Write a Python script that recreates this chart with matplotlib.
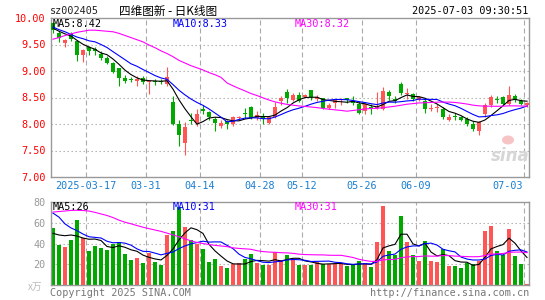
import numpy as np
import pandas as pd
import matplotlib
matplotlib.use("Agg")
import matplotlib.pyplot as plt

# ---------------- data ----------------
opens = [9.90, 9.72, 9.52, 9.69, 9.57, 9.31, 9.45, 9.42, 9.32, 9.25,
         9.15, 9.05, 8.87, 8.84, 8.82, 8.87, 8.79, 8.81, 8.82, 8.76,
         8.42, 8.00, 7.64, 8.08, 8.02, 8.28, 8.23, 8.10, 7.96, 8.05,
         8.00, 8.11, 8.21, 8.33, 8.11, 8.15, 8.02, 8.13, 8.43, 8.60,
         8.46, 8.55, 8.51, 8.65, 8.48, 8.49, 8.31, 8.40, 8.45, 8.49,
         8.43, 8.38, 8.24, 8.33, 8.31, 8.29, 8.60, 8.47, 8.75, 8.57,
         8.57, 8.46, 8.43, 8.29, 8.30, 8.29, 8.08, 8.15, 8.14, 8.10,
         8.00, 7.86, 8.18, 8.35, 8.48, 8.50, 8.38, 8.52, 8.44, 8.36]
highs = [9.93, 9.75, 9.60, 9.73, 9.58, 9.41, 9.48, 9.46, 9.37, 9.28,
         9.17, 9.06, 8.92, 8.88, 8.90, 8.90, 8.82, 8.84, 8.85, 9.07,
         8.52, 8.08, 8.04, 8.21, 8.29, 8.36, 8.25, 8.14, 8.08, 8.07,
         8.15, 8.16, 8.30, 8.34, 8.24, 8.21, 8.14, 8.42, 8.52, 8.66,
         8.58, 8.60, 8.57, 8.65, 8.55, 8.50, 8.40, 8.47, 8.49, 8.50,
         8.52, 8.44, 8.40, 8.38, 8.60, 8.70, 8.65, 8.52, 8.79, 8.68,
         8.59, 8.52, 8.49, 8.38, 8.38, 8.33, 8.18, 8.21, 8.16, 8.14,
         8.05, 8.05, 8.40, 8.54, 8.52, 8.52, 8.71, 8.57, 8.48, 8.42]
lows = [9.72, 9.55, 9.46, 9.57, 9.18, 9.17, 9.30, 9.31, 9.20, 9.14,
        8.97, 8.71, 8.77, 8.79, 8.71, 8.75, 8.56, 8.74, 8.75, 8.71,
        7.99, 7.58, 7.41, 8.00, 7.97, 8.18, 8.08, 7.87, 7.93, 7.91,
        7.97, 8.08, 8.12, 8.10, 8.08, 8.00, 8.00, 8.11, 8.35, 8.40,
        8.43, 8.42, 8.49, 8.46, 8.44, 8.29, 8.29, 8.31, 8.36, 8.40,
        8.36, 8.19, 8.19, 8.19, 8.28, 8.27, 8.46, 8.40, 8.54, 8.48,
        8.43, 8.44, 8.21, 8.25, 8.23, 8.10, 8.05, 8.08, 8.05, 7.96,
        7.86, 7.80, 8.13, 8.33, 8.40, 8.35, 8.35, 8.42, 8.35, 8.33]
closes = [9.77, 9.63, 9.58, 9.60, 9.31, 9.40, 9.37, 9.37, 9.25, 9.15,
          8.99, 8.87, 8.82, 8.83, 8.84, 8.79, 8.81, 8.79, 8.80, 8.89,
          8.00, 7.80, 7.94, 8.05, 8.19, 8.25, 8.13, 8.02, 8.02, 8.00,
          8.13, 8.13, 8.19, 8.11, 8.17, 8.10, 8.13, 8.33, 8.49, 8.49,
          8.54, 8.43, 8.55, 8.51, 8.50, 8.31, 8.36, 8.46, 8.47, 8.45,
          8.40, 8.21, 8.38, 8.29, 8.33, 8.62, 8.52, 8.44, 8.58, 8.58,
          8.48, 8.50, 8.29, 8.31, 8.31, 8.13, 8.14, 8.13, 8.08, 8.00,
          7.91, 8.04, 8.35, 8.50, 8.45, 8.38, 8.54, 8.46, 8.37, 8.40]
volumes = [55.0, 38.7, 36.8, 43.3, 62.2, 45.3, 32.9, 37.8, 36.1, 33.6,
           40.0, 41.7, 30.3, 24.1, 26.4, 21.5, 31.2, 22.4, 19.2, 48.5,
           52.4, 75.0, 56.3, 43.3, 39.4, 34.5, 22.4, 24.8, 18.3, 16.0,
           20.5, 21.5, 24.8, 30.3, 21.5, 19.2, 19.2, 31.9, 23.8, 29.0,
           24.8, 19.2, 19.2, 19.2, 22.4, 20.5, 20.5, 20.5, 19.8, 18.3,
           19.2, 23.1, 21.5, 17.3, 41.0, 75.8, 32.9, 29.0, 66.1, 41.0,
           29.0, 23.1, 42.7, 23.1, 22.4, 35.1, 18.3, 18.3, 16.6, 21.5,
           19.8, 23.1, 52.4, 57.3, 32.9, 29.0, 54.1, 28.0, 20.5, 1.0]

# moving-average values before enough in-window history exists
ma5_head = [9.81, 9.75, 9.70, 9.66]
ma10_head = [9.83, 9.78, 9.74, 9.69, 9.64, 9.61, 9.57, 9.55, 9.50]
ma30_head = [9.60, 9.63, 9.67, 9.70, 9.73, 9.75, 9.77, 9.77, 9.76, 9.75,
             9.74, 9.71, 9.67, 9.63, 9.59, 9.55, 9.49, 9.44, 9.38, 9.33,
             9.27, 9.20, 9.15, 9.10, 9.06, 9.02, 8.97, 8.93, 8.88]
vma5_head = [49.8, 48.2, 47.5, 48.2]
vma10_head = [69.3, 65.4, 58.9, 55.0, 52.4, 49.1, 46.5, 45.9, 45.3]
vma30_head = [70.3, 70.8, 71.3, 71.9, 72.0, 71.8, 71.3, 70.0, 68.5, 67.0,
              65.0, 62.5, 60.5, 59.0, 57.3, 55.7, 54.3, 53.0, 51.7, 50.0,
              48.3, 46.5, 44.5, 42.5, 41.0, 40.0, 39.0, 38.2, 37.6]

tick_idx = [6, 16, 25, 35, 42, 52, 61, 79]
tick_labels = ["2025-03-17", "03-31", "04-14", "04-28", "05-12", "05-26", "06-09", "07-03"]
price_ticks = [10.0, 9.5, 9.0, 8.5, 8.0, 7.5, 7.0]
vol_ticks = [80, 60, 40, 20]

stock_code = "sz002405"
title_text = "四维图新 - 日K线图"
timestamp = "2025-07-03 09:30:51"
price_ma_labels = ["MA5:8.42", "MA10:8.33", "MA30:8.32"]
vol_ma_labels = ["MA5:26", "MA10:31", "MA30:31"]
vol_unit = "x万"
copyright_text = "Copyright 2025 SINA.COM"
url_text = "http://finance.sina.com.cn"

# ---------------- styling ----------------
W, H = 545, 300
RED = "#ff5555"
GREEN = "#00a800"
MA_COLORS = ["#000000", "#0000ff", "#ff00ff"]
BORDER = "#999999"
MONO = "DejaVu Sans Mono"
FS = 7.3


def ma_with_head(values, n, head):
    s = pd.Series(values, dtype=float).rolling(n).mean().to_numpy()
    s[:len(head)] = head
    return s


def px(x, y):
    return x / W, 1 - y / H


fig = plt.figure(figsize=(W / 100, H / 100), dpi=100)
fig.patch.set_facecolor("white")

L, R = 51, 529
ax1 = fig.add_axes([L / W, 1 - 177 / H, (R - L) / W, (177 - 18) / H])
ax2 = fig.add_axes([L / W, 1 - 285 / H, (R - L) / W, (285 - 202) / H])

n = len(closes)
x = np.arange(n)
o = np.array(opens); c = np.array(closes); h = np.array(highs); lo = np.array(lows)
up = c >= o
colors = np.where(up, RED, GREEN)

for ax in (ax1, ax2):
    ax.set_xlim(-1 / 3, n - 1 + 1 / 3)
    for sp in ax.spines.values():
        sp.set_color(BORDER)
        sp.set_linewidth(1.0)
    ax.set_xticks([])
    ax.tick_params(axis="y", length=0, pad=4)
    for t in tick_idx:
        ax.axvline(t - 0.5, color="#aaaaaa", lw=0.8, ls=(0, (4.5, 2.7)), zorder=0)

# price panel
ax1.set_ylim(7.0, 10.0)
for p in price_ticks[1:-1]:
    ax1.axhline(p, color="#aaaaaa", lw=0.8, ls=(0, (1.2, 2.4)), zorder=0)
ax1.vlines(x, lo, h, colors=colors, lw=0.8, zorder=2)
body_b = np.minimum(o, c)
body_h = np.maximum(np.abs(c - o), 0.018)
ax1.bar(x, body_h, bottom=body_b, width=0.78, color=colors, linewidth=0, zorder=3)
for period, head, col in zip((5, 10, 30), (ma5_head, ma10_head, ma30_head), MA_COLORS):
    ax1.plot(x, ma_with_head(closes, period, head), color=col, lw=0.8, zorder=4)
ax1.set_yticks(price_ticks)
ax1.set_yticklabels(["%.2f" % p for p in price_ticks], family=MONO, fontsize=FS, color="#ff0000")

# volume panel
ax2.set_ylim(0, 80)
for v in vol_ticks[1:]:
    ax2.axhline(v, color="#aaaaaa", lw=0.8, ls=(0, (1.2, 2.4)), zorder=0)
ax2.bar(x, volumes, width=0.8, color=colors, linewidth=0, zorder=2)
for period, head, col in zip((5, 10, 30), (vma5_head, vma10_head, vma30_head), MA_COLORS):
    ax2.plot(x, ma_with_head(volumes, period, head), color=col, lw=0.8, zorder=4)
ax2.set_yticks(vol_ticks)
ax2.set_yticklabels([str(v) for v in vol_ticks], family=MONO, fontsize=FS, color="#999999")

# date labels
trans = ax1.get_xaxis_transform()
for k, (t, lab) in enumerate(zip(tick_idx, tick_labels)):
    if k == len(tick_idx) - 1:
        ax1.text(n - 1 - 0.6, -0.057, lab, transform=trans, ha="right", va="center",
                 family=MONO, fontsize=FS, color="#1a7fd0")
    else:
        ax1.text(t - 0.5, -0.057, lab, transform=trans, ha="center", va="center",
                 family=MONO, fontsize=FS, color="#1a7fd0")

# header texts
fig.text(*px(50, 11), stock_code, family=MONO, fontsize=FS, color="#222222", va="center", ha="left")
fig.text(*px(119, 11), title_text, family=["Noto Sans CJK SC", "DejaVu Sans"], fontsize=8.4,
         color="#000000", va="center", ha="left")
fig.text(*px(528, 11), timestamp, family=MONO, fontsize=FS, color="#000000", va="center", ha="right")

# MA legends
for xp, lab, col in zip((53, 173, 295), price_ma_labels, MA_COLORS):
    fig.text(*px(xp, 24), lab, family=MONO, fontsize=FS, color=col, va="center", ha="left")
for xp, lab, col in zip((53, 173, 295), vol_ma_labels, MA_COLORS):
    fig.text(*px(xp, 207), lab, family=MONO, fontsize=FS, color=col, va="center", ha="left")

# footer
fig.text(*px(28, 287), vol_unit, family=["Noto Sans CJK SC", "DejaVu Sans"], fontsize=7,
         color="#bbbbbb", va="center", ha="left")
fig.text(*px(50, 293), copyright_text, family=MONO, fontsize=FS, color="#777777", va="center", ha="left")
fig.text(*px(529, 293), url_text, family=MONO, fontsize=FS, color="#777777", va="center", ha="right")

# sina watermark
fig.text(*px(510, 156), "sina", fontsize=12, fontstyle="italic", fontweight="bold",
         color="#d6d6d6", va="center", ha="center", zorder=1)
fig.patches.append(matplotlib.patches.Ellipse(px(508, 140), 12 / W, 9 / H, transform=fig.transFigure,
                                              facecolor="#f6c4c4", edgecolor="none", zorder=1))

fig.savefig("out.png", dpi=100)
